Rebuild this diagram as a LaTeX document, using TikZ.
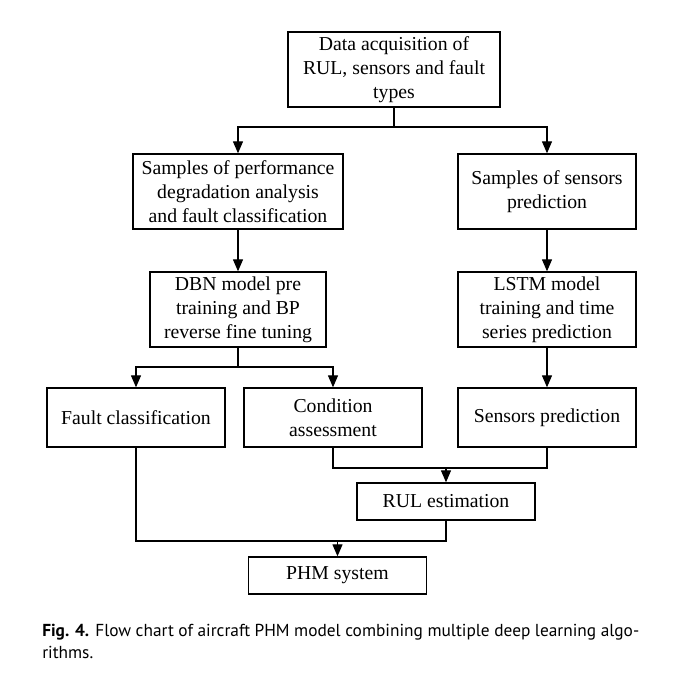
\documentclass[tikz,border=0pt]{standalone}
\usepackage{fontspec}
\setmainfont{Liberation Serif}
\newfontfamily\capfont{PT Sans}
\usetikzlibrary{arrows.meta}
\newdimen\px \px=0.75pt
\tikzset{
  box/.style={draw, line width=1pt, rectangle, align=center, inner sep=0pt,
    font=\fontsize{14.8pt}{18pt}\selectfont},
  conn/.style={line width=0.9pt},
  arr/.style={conn, -{Triangle[length=9pt, width=7.5pt]}},
}
\begin{document}
\begin{tikzpicture}[x=0.75pt,y=-0.75pt]
\useasboundingbox (0,0) rectangle (682,679);
\node[box, minimum width=212*\px, minimum height=75*\px] (b1) at (394,69.5) {Data acquisition of\\RUL, sensors and fault\\types};
\node[box, minimum width=210*\px, minimum height=75*\px] (b2) at (238,191.5) {Samples of performance\\degradation analysis\\and fault classification};
\node[box, minimum width=178*\px, minimum height=75*\px] (b3) at (547,191.5) {Samples of sensors\\prediction};
\node[box, minimum width=176*\px, minimum height=75*\px] (b4) at (238,309.5) {DBN model pre\\training and BP\\reverse fine tuning};
\node[box, minimum width=178*\px, minimum height=75*\px] (b5) at (547,309.5) {LSTM model\\training and time\\series prediction};
\node[box, minimum width=178*\px, minimum height=59*\px] (b6) at (136,417.5) {Fault classification};
\node[box, minimum width=178*\px, minimum height=59*\px] (b7) at (333,417.5) {Condition\\assessment};
\node[box, minimum width=178*\px, minimum height=59*\px] (b8) at (547,417.5) {Sensors prediction};
\node[box, minimum width=178*\px, minimum height=37*\px] (b9) at (446,501.5) {RUL estimation};
\node[box, minimum width=178*\px, minimum height=37*\px] (b10) at (337.5,575.5) {PHM system};

\coordinate (j1) at (394,127);
\coordinate (j2) at (238,367);
\coordinate (j3) at (446,468);
\coordinate (j4) at (337.5,541);

\draw[conn] (b1.south) -- (j1);
\draw[arr] (j1) -| (b2.north);
\draw[arr] (j1) -| (b3.north);
\draw[arr] (b2.south) -- (b4.north);
\draw[arr] (b3.south) -- (b5.north);
\draw[arr] (b5.south) -- (b8.north);
\draw[conn] (b4.south) -- (j2);
\draw[arr] (j2) -| (b6.north);
\draw[arr] (j2) -| (b7.north);
\draw[conn] (b7.south) |- (j3) -| (b8.south);
\draw[arr] (j3) -- (b9.north);
\draw[conn] (b6.south) |- (j4) -| (b9.south);
\draw[arr] (j4) -- (b10.north);

\node[anchor=north west, inner sep=0pt, text width=597*\px, align=justify,
  font=\capfont\fontsize{13pt}{16.5pt}\selectfont] (cap) at (42,624)
  {{\bfseries Fig. 4.} Flow chart of aircraft PHM model combining multiple deep learning algo-\linebreak rithms.};
\end{tikzpicture}
\end{document}
